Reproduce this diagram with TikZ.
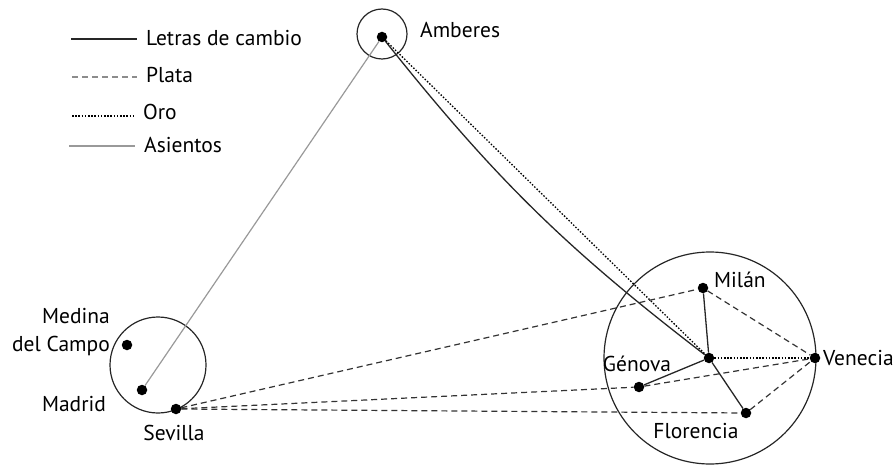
\documentclass[tikz,border=0pt]{standalone}
\usepackage{fontspec}
\setmainfont{PT Sans}
\begin{document}
\begin{tikzpicture}[x=1pt,y=-1pt,
  every node/.style={font=\fontsize{21.5}{28}\selectfont,text=black},
  city/.style={circle,fill=black,inner sep=0pt,minimum size=10.5pt},
  region/.style={circle,draw=black!85,line width=1.2pt,inner sep=0pt},
  letras/.style={draw=black!85,line width=1.3pt},
  plata/.style={draw=black!80,line width=1.2pt,dash pattern=on 6pt off 4pt},
  oro/.style={draw=black,line width=1.3pt,dash pattern=on 1.5pt off 1.7pt},
  asientos/.style={draw=black!40,line width=1.2pt},
  legtext/.style={anchor=west,inner xsep=9pt,inner ysep=0pt}]
  \useasboundingbox (0,0) rectangle (896,465);

  % regions
  \node[region,minimum size=50pt] (rAmberes) at (382,34) {};
  \node[region,minimum size=96pt] (rCastilla) at (158,365) {};
  \node[region,minimum size=212pt] (rItalia) at (710,358) {};

  % cities
  \node[city] (amberes) at (382,37) {};
  \node[city] (medina) at (127,345) {};
  \node[city] (madrid) at (142,390) {};
  \node[city] (sevilla) at (176,409) {};
  \node[city] (hub) at (709,358) {};
  \node[city] (milan) at (703,288) {};
  \node[city] (venecia) at (815,358) {};
  \node[city] (genova) at (639,387) {};
  \node[city] (florencia) at (746,413) {};

  % labels
  \node[anchor=west,inner sep=0pt] (lAmberes) at (420,30) {Amberes};
  \node[anchor=east,inner sep=0pt,align=right] (lMedina) at (110,332) {Medina\\del Campo};
  \node (lMadrid) at (74,404) {Madrid};
  \node (lSevilla) at (174,433) {Sevilla};
  \node[anchor=west,inner sep=0pt] (lMilan) at (714,280) {Milán};
  \node[anchor=west,inner sep=0pt] (lVenecia) at (823,358) {Venecia};
  \node (lGenova) at (637,364) {Génova};
  \node (lFlorencia) at (696,431) {Florencia};

  % flows
  \draw[asientos] (madrid) -- (amberes);
  \draw[letras] (amberes) to[bend right=7] (hub);
  \draw[oro] (amberes) -- (hub);
  \draw[oro] (hub) -- (venecia);
  \foreach \c in {milan,genova,florencia} {
    \draw[letras] (hub) -- (\c);
    \draw[plata] (sevilla) -- (\c);
    \draw[plata] (\c) -- (venecia);
  }

  % legend
  \node[legtext] (leg1) at (137,38) {Letras de cambio};
  \node[legtext] (leg2) at (137,75) {Plata};
  \node[legtext] (leg3) at (134,112) {Oro};
  \node[legtext] (leg4) at (135,145) {Asientos};
  \coordinate (leg1s) at (71,39);
  \coordinate (leg2s) at (72,77);
  \coordinate (leg3s) at (72,116);
  \coordinate (leg4s) at (69,146);
  \draw[letras] (leg1s) -- (leg1s -| leg1.west);
  \draw[plata,draw=black!45] (leg2s) -- (leg2s -| leg2.west);
  \draw[oro] (leg3s) -- (leg3s -| leg3.west);
  \draw[asientos] (leg4s) -- (leg4s -| leg4.west);
\end{tikzpicture}
\end{document}
